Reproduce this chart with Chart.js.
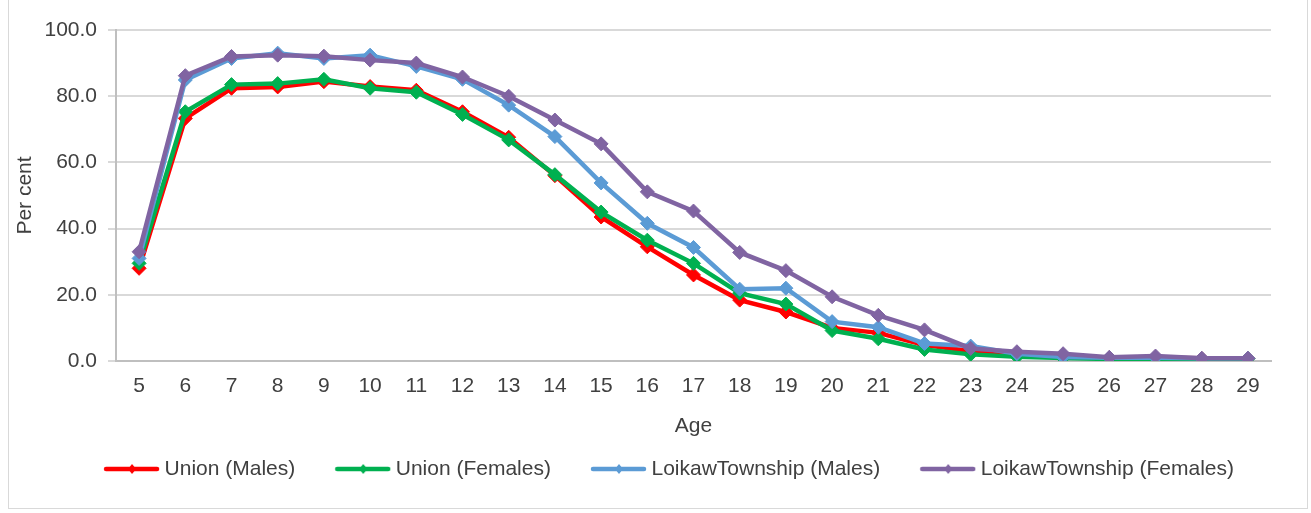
<!DOCTYPE html>
<html>
<head>
<meta charset="utf-8">
<script src="https://cdn.jsdelivr.net/npm/chart.js@4/dist/chart.umd.min.js"></script>
<style>
  html, body { margin: 0; padding: 0; background: #fff; }
  #frame {
    position: absolute; left: 8px; top: -1px;
    width: 1298px; height: 508px;
    border: 1px solid #d9d9d9; background: #fff;
  }
  #chart { display: block; }
</style>
</head>
<body>
<div id="frame"><canvas id="chart" width="1298" height="508"></canvas></div>
<script>
/* Attendance rate by age */
const ages = ['5', '6', '7', '8', '9', '10', '11', '12', '13', '14', '15', '16', '17',
  '18', '19', '20', '21', '22', '23', '24', '25', '26', '27', '28', '29'];

const unionMales = [28, 73.3, 82.4, 82.8, 84.4, 82.9, 81.8, 75.3, 67.6, 56, 43.5, 34.5, 26,
  18.4, 14.8, 10, 8.5, 4.8, 3, 2, 1.5, 1, 1, 0.8, 0.8];
const unionFemales = [29.5, 75.3, 83.5, 83.8, 85.1, 82.4, 81.2, 74.5, 66.8, 56.3, 45, 36.5, 29.5,
  20.5, 17.2, 9.2, 6.7, 3.5, 2, 1.3, 0.9, 0.6, 0.5, 0.6, 0.7];
const loikawMales = [31, 84.9, 91.4, 93, 91.4, 92.4, 89, 85.1, 77.3, 67.8, 53.8, 41.6, 34.3,
  21.7, 22, 11.9, 10.2, 5.3, 4.5, 2.2, 1.2, 1, 1, 0.8, 0.8];
const loikawFemales = [33, 86.2, 92, 92.4, 92.1, 90.9, 90, 85.8, 80, 72.8, 65.6, 51.1, 45.3,
  32.8, 27.3, 19.4, 13.8, 9.4, 3.8, 2.8, 2.2, 1.1, 1.5, 0.8, 0.8];

const yTicks = [0, 20, 40, 60, 80, 100];

const SERIES = [
  { label: 'Union (Males)', data: unionMales, color: '#ff0000', order: 3 },
  { label: 'Union (Females)', data: unionFemales, color: '#00b050', order: 2 },
  { label: 'LoikawTownship (Males)', data: loikawMales, color: '#5b9bd5', order: 1 },
  { label: 'LoikawTownship (Females)', data: loikawFemales, color: '#8064a2', order: 0 },
];

const FONT = "'Liberation Sans', Arial, sans-serif";
const TEXT = '#404040';
const LEGEND_Y = 469;   // centre line of the legend row
const LEGEND_DX = 29;

// little line + diamond used in the legend
function legendIcon(color) {
  const c = document.createElement('canvas');
  c.width = 62; c.height = 14;
  const g = c.getContext('2d');
  g.strokeStyle = color;
  g.lineWidth = 4.5;
  g.lineCap = 'round';
  g.beginPath(); g.moveTo(8, 7); g.lineTo(59, 7); g.stroke();
  g.fillStyle = color;
  g.beginPath(); g.moveTo(34, 2); g.lineTo(38, 7); g.lineTo(34, 12); g.lineTo(30, 7); g.closePath(); g.fill();
  return c;
}
const icons = SERIES.map(s => legendIcon(s.color));

// move the legend row into place (box keeps its size, so nothing gets clipped)
const legendShift = {
  id: 'legendShift',
  afterLayout(chart) {
    const lg = chart.legend;
    if (!lg) return;
    const pad = lg.options.labels.padding;
    const dy = LEGEND_Y - (lg.top + pad + 10.5);
    lg.top += dy; lg.bottom += dy;
    lg.left += LEGEND_DX; lg.right += LEGEND_DX;
  },
};

new Chart(document.getElementById('chart'), {
  type: 'line',
  data: {
    labels: ages,
    datasets: SERIES.map(s => ({
      label: s.label,
      data: s.data,
      order: s.order,
      borderColor: s.color,
      backgroundColor: s.color,
      borderWidth: 4.5,
      pointStyle: 'rectRot',
      pointRadius: 7,
      pointBorderWidth: 1,
      pointBackgroundColor: s.color,
      pointBorderColor: s.color,
      tension: 0,
    })),
  },
  plugins: [legendShift],
  options: {
    responsive: false,
    animation: false,
    events: [],
    layout: { padding: { top: 30, right: 36, bottom: 0, left: 0 } },
    plugins: {
      tooltip: { enabled: false },
      legend: {
        position: 'bottom',
        labels: {
          usePointStyle: true,
          pointStyleWidth: 50,
          boxHeight: 14,
          padding: 40,
          color: TEXT,
          font: { family: FONT, size: 21 },
          generateLabels(chart) {
            const items = Chart.defaults.plugins.legend.labels.generateLabels(chart);
            items.forEach(it => { it.pointStyle = icons[it.datasetIndex]; });
            return items;
          },
          sort: (a, b) => a.datasetIndex - b.datasetIndex,
        },
      },
    },
    scales: {
      x: {
        offset: true,
        grid: { display: false, drawTicks: false },
        border: { display: true, color: '#bfbfbf', width: 2 },
        ticks: { color: TEXT, font: { family: FONT, size: 21 }, padding: 13, maxRotation: 0, autoSkip: false },
        title: { display: true, text: 'Age', color: TEXT, font: { family: FONT, size: 21, lineHeight: 1 }, padding: { top: 0, bottom: 0 } },
        afterFit(scale) { scale.height = 76; },
      },
      y: {
        min: 0,
        max: 100,
        afterBuildTicks(scale) { scale.ticks = yTicks.map(v => ({ value: v })); },
        grid: { color: '#d9d9d9', lineWidth: 2, tickLength: 8 },
        border: { display: true, color: '#bfbfbf', width: 2 },
        ticks: { color: TEXT, font: { family: FONT, size: 21 }, padding: 11, callback: v => Number(v).toFixed(1) },
        title: { display: true, text: 'Per cent', color: TEXT, font: { family: FONT, size: 21 }, padding: { top: 4, bottom: 0 } },
        afterFit(scale) { scale.width = 107; },
      },
    },
  },
});
</script>
</body>
</html>
